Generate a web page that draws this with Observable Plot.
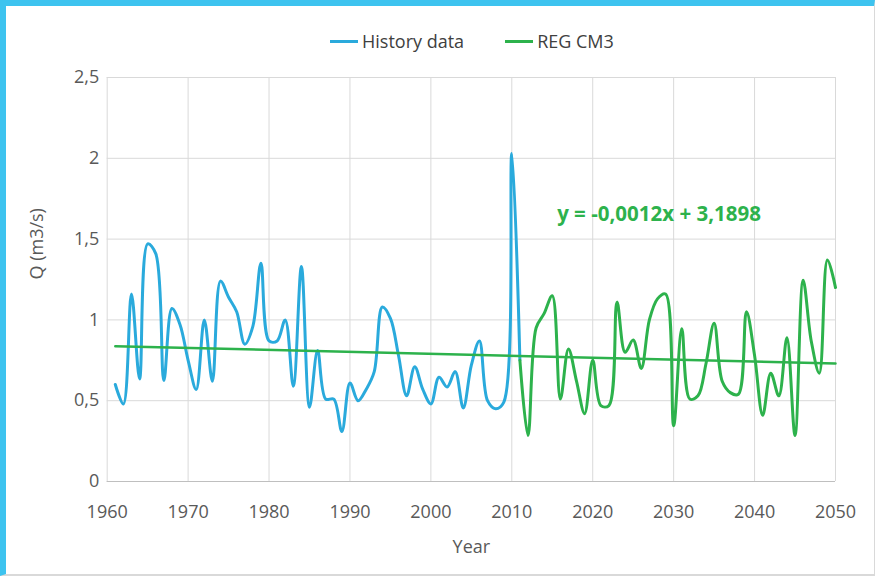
<!DOCTYPE html>
<html>
<head>
<meta charset="utf-8">
<script src="https://cdn.jsdelivr.net/npm/d3@7"></script>
<script src="https://cdn.jsdelivr.net/npm/@observablehq/plot@0.6"></script>
<style>
  html, body { margin: 0; padding: 0; background: #fff; }
  #wrap { position: relative; width: 875px; height: 576px; overflow: hidden; font-family: "Open Sans", sans-serif; }
  #border { position: absolute; left: 0; top: 0; width: 875px; height: 576px; box-sizing: border-box;
            border-top: 6px solid #3dc3ef; border-left: 6px solid #3dc3ef;
            border-right: 1px solid #d9d9d9; border-bottom: 2px solid #d9d9d9; }
  #chart { position: absolute; left: 0; top: 0; }
  #legend { position: absolute; left: 330px; top: 29px; display: flex; align-items: center; font-size: 18px; color: #404040; line-height: 24px; }
  .sw { display: inline-block; width: 28px; height: 3px; margin-right: 4px; }
  .item { display: flex; align-items: center; margin-right: 41px; }
  #chart text.eq { letter-spacing: 1.1px; }
</style>
</head>
<body>
<div id="wrap">
  <div id="border"></div>
  <div id="chart"></div>
  <div id="legend"></div>
</div>
<script>
// ---- data ----
const historyYears = d3.range(1961, 2012);
const historyQ = [0.60, 0.48, 1.16, 0.635, 1.47, 1.41, 0.625, 1.07, 0.97, 0.75,
                  0.57, 1.00, 0.62, 1.24, 1.14, 1.05, 0.85, 0.96, 1.35, 0.87,
                  0.87, 1.00, 0.59, 1.33, 0.46, 0.81, 0.51, 0.51, 0.31, 0.61,
                  0.50, 0.57, 0.68, 1.08, 1.01, 0.78, 0.53, 0.71, 0.57, 0.48,
                  0.645, 0.585, 0.68, 0.455, 0.72, 0.87, 0.50, 0.45, 0.49, 2.03,
                  0.75];
const regYears = d3.range(2011, 2051);
const regQ = [0.75, 0.285, 0.95, 1.04, 1.15, 0.51, 0.82, 0.62, 0.42, 0.75,
              0.47, 0.47, 1.11, 0.80, 0.875, 0.70, 1.00, 1.13, 1.16, 0.345,
              0.945, 0.51, 0.53, 0.73, 0.98, 0.62, 0.55, 0.54, 1.05, 0.78,
              0.41, 0.67, 0.53, 0.89, 0.285, 1.245, 0.87, 0.67, 1.37, 1.20];
const trendYears = [1961, 2050];
const trendQ = [0.837, 0.730];
const xTicks = [1960, 1970, 1980, 1990, 2000, 2010, 2020, 2030, 2040, 2050];
const yTicks = [0, 0.5, 1, 1.5, 2, 2.5];
const seriesNames = ["History data", "REG CM3"];
const equationLabel = [{year: 2015.6, q: 1.655, text: "y = -0,0012x + 3,1898"}];
const xTitle = "Year";
const yTitle = "Q (m3/s)";

const blue = "#2aaadc";
const green = "#2db24c";

const history = historyYears.map((y, i) => ({year: y, q: historyQ[i]}));
const reg = regYears.map((y, i) => ({year: y, q: regQ[i]}));
const trend = trendYears.map((y, i) => ({year: y, q: trendQ[i]}));
const fmtY = d => String(d).replace(".", ",");

const chart = Plot.plot({
  width: 875,
  height: 576,
  marginLeft: 106.7,
  marginRight: 40,
  marginTop: 77,
  marginBottom: 95,
  style: {fontFamily: "'Open Sans', sans-serif", fontSize: "18px", color: "#595959", background: "transparent", overflow: "visible"},
  x: {domain: [1960, 2050]},
  y: {domain: [0, 2.5]},
  marks: [
    Plot.gridY(yTicks, {stroke: "#d9d9d9", strokeOpacity: 1, strokeWidth: 1}),
    Plot.gridX(xTicks, {stroke: "#d9d9d9", strokeOpacity: 1, strokeWidth: 1}),
    Plot.ruleY([0], {stroke: "#bfbfbf", strokeWidth: 1}),
    Plot.axisX(xTicks, {tickSize: 0, tickPadding: 24, label: null, tickFormat: d => String(d), fill: "#595959", fontSize: 18}),
    Plot.axisY(yTicks, {tickSize: 0, tickPadding: 8, label: null, tickFormat: fmtY, fill: "#595959", fontSize: 18}),
    Plot.text([xTitle], {frameAnchor: "bottom", dy: 71, fill: "#595959", fontSize: 18}),
    Plot.text([yTitle], {frameAnchor: "left", dx: -70, rotate: -90, fill: "#595959", fontSize: 18}),
    Plot.lineY(history, {x: "year", y: "q", stroke: blue, strokeWidth: 3, curve: "catmull-rom"}),
    Plot.lineY(reg, {x: "year", y: "q", stroke: green, strokeWidth: 3, curve: "catmull-rom"}),
    Plot.line(trend, {x: "year", y: "q", stroke: green, strokeWidth: 2.5}),
    Plot.text(equationLabel, {x: "year", y: "q", text: "text", textAnchor: "start", fill: green, fontWeight: "bold", fontSize: 20.5, className: "eq"})
  ]
});
document.getElementById("chart").appendChild(chart);

const legend = document.getElementById("legend");
[[seriesNames[0], blue], [seriesNames[1], green]].forEach(([name, color]) => {
  const item = document.createElement("div");
  item.className = "item";
  const sw = document.createElement("span");
  sw.className = "sw";
  sw.style.background = color;
  const t = document.createElement("span");
  t.textContent = name;
  item.appendChild(sw);
  item.appendChild(t);
  legend.appendChild(item);
});
</script>
</body>
</html>
